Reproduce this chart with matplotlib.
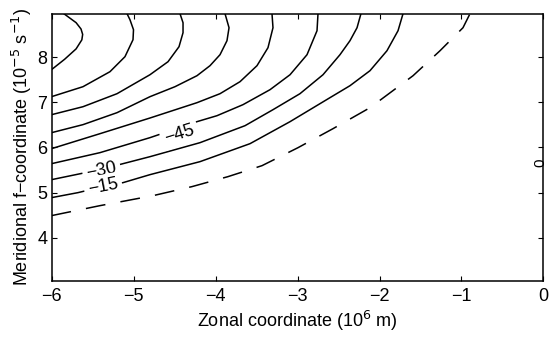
import matplotlib
matplotlib.use('Agg')
import matplotlib.pyplot as plt

plt.rcParams['font.family'] = ['Liberation Sans', 'DejaVu Sans']

# contour levels and the lines (x in 10^6 m, y in 10^-5 s^-1)
levels = [0, -15, -30, -45, -60, -75, -90, -105, -120]

x0 = [-6.0, -5.409, -4.762, -4.287, -3.848, -3.433, -2.994, -2.567, -2.116, -1.591, -1.262, -0.982, -0.896]
y0 = [4.489, 4.710, 4.931, 5.131, 5.352, 5.595, 5.993, 6.414, 6.878, 7.586, 8.139, 8.648, 8.96]

x15 = [-6.0, -5.677, -5.372, -5.128, -4.799, -4.189, -3.579, -3.091, -2.604, -2.360, -2.116, -1.909, -1.774, -1.713]
y15 = [4.887, 4.998, 5.131, 5.219, 5.396, 5.684, 6.082, 6.569, 7.100, 7.365, 7.697, 8.139, 8.582, 8.96]

x30 = [-6.0, -5.409, -4.799, -4.189, -3.640, -3.299, -2.970, -2.689, -2.482, -2.360, -2.274, -2.226]
y30 = [5.285, 5.507, 5.794, 6.104, 6.48, 6.834, 7.188, 7.608, 8.051, 8.361, 8.648, 8.96]

x45 = [-6.0, -5.409, -4.799, -4.226, -3.982, -3.665, -3.335, -3.091, -2.884, -2.762, -2.750]
y45 = [5.639, 5.883, 6.215, 6.569, 6.701, 6.945, 7.277, 7.608, 8.051, 8.582, 8.96]

x60 = [-6.0, -5.409, -4.799, -4.226, -3.945, -3.701, -3.494, -3.360, -3.299, -3.311]
y60 = [5.971, 6.303, 6.650, 6.989, 7.188, 7.454, 7.808, 8.206, 8.648, 8.96]

x75 = [-6.0, -5.616, -5.201, -4.799, -4.494, -4.226, -4.067, -3.945, -3.860, -3.835, -3.884]
y75 = [6.325, 6.503, 6.768, 7.122, 7.343, 7.586, 7.808, 8.051, 8.361, 8.648, 8.96]

x90 = [-6.0, -5.616, -5.201, -4.799, -4.579, -4.445, -4.396, -4.396, -4.433]
y90 = [6.723, 6.900, 7.188, 7.608, 7.896, 8.228, 8.538, 8.759, 8.96]

x105 = [-6.0, -5.616, -5.287, -5.104, -5.006, -5.0, -5.043, -5.079]
y105 = [7.122, 7.343, 7.675, 8.007, 8.383, 8.604, 8.825, 8.96]

x120 = [-6.0, -5.84, -5.70, -5.63, -5.62, -5.64, -5.70, -5.79, -5.85]
y120 = [7.72, 7.95, 8.18, 8.38, 8.50, 8.62, 8.76, 8.88, 8.96]

xs = [x0, x15, x30, x45, x60, x75, x90, x105, x120]
ys = [y0, y15, y30, y45, y60, y75, y90, y105, y120]

# inline labels: text, x, y, angle
lab_text = ['\u221245', '\u221230', '\u221215']
lab_x = [-4.44, -5.39, -5.37]
lab_y = [6.30, 5.49, 5.12]
lab_rot = [17, 11, 11]

xticks = [-6, -5, -4, -3, -2, -1, 0]
yticks = [4, 5, 6, 7, 8]

fig = plt.figure(figsize=(5.52, 3.41), dpi=100)
ax = fig.add_axes([0.0933, 0.177, 0.8913, 0.783])

for lev, x, y in zip(levels, xs, ys):
    if lev == 0:
        ax.plot(x, y, color='black', lw=1.1, dashes=(13, 10))
    else:
        ax.plot(x, y, color='black', lw=1.1)

for t, x, y, r in zip(lab_text, lab_x, lab_y, lab_rot):
    ax.text(x, y, t, rotation=r, ha='center', va='center', fontsize=13,
            rotation_mode='anchor', zorder=5,
            bbox=dict(boxstyle='square,pad=0.22', fc='white', ec='none'))

# zero contour label on the eastern boundary
ax.text(-0.04, 5.66, '0', rotation=90, ha='center', va='center', fontsize=11, zorder=5)

ax.set_xlim(-6, 0)
ax.set_ylim(3.05, 8.96)
ax.set_xticks(xticks)
ax.set_yticks(yticks)
ax.tick_params(direction='in', top=True, right=True, length=3.5, width=0.8, labelsize=13)
ax.tick_params(axis='x', pad=5)
ax.tick_params(axis='y', pad=3)
for s in ax.spines.values():
    s.set_linewidth(1.1)

ax.set_xlabel('Zonal coordinate (10$^{6}$ m)', fontsize=13, labelpad=3)
ax.set_ylabel('Meridional f\u2212coordinate (10$^{-5}$ s$^{-1}$)', fontsize=13, labelpad=2)

fig.savefig('out.png', dpi=100)
